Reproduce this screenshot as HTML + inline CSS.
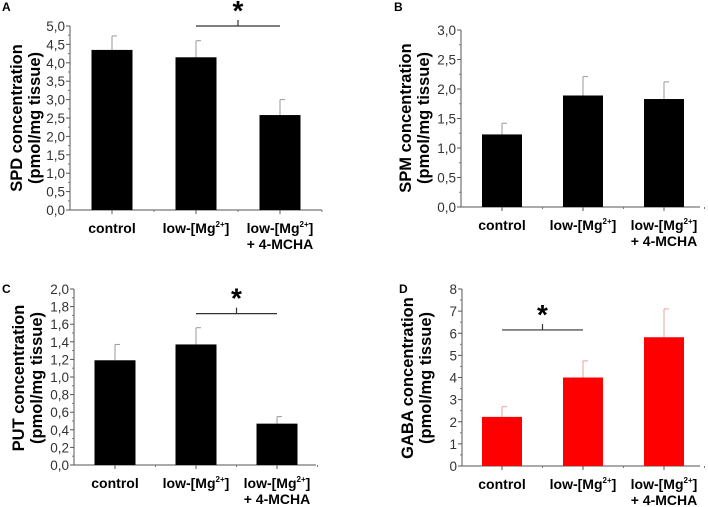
<!DOCTYPE html>
<html><head><meta charset="utf-8"><style>
html,body{margin:0;padding:0;background:#fff;}
svg{display:block;font-family:"Liberation Sans",Arial,sans-serif;}
</style></head><body>
<svg id="fig" width="708" height="507" viewBox="0 0 708 507"></svg>
<script>
const categories = ["control","low-[Mg2+]","low-[Mg2+] + 4-MCHA"];
const spdValues = [4.35, 4.15, 2.58];
const spdErr = [0.38, 0.45, 0.42];
const spmValues = [1.23, 1.89, 1.83];
const spmErr = [0.19, 0.32, 0.29];
const putValues = [1.19, 1.37, 0.47];
const putErr = [0.18, 0.19, 0.08];
const gabaValues = [2.22, 4.0, 5.82];
const gabaErr = [0.46, 0.75, 1.28];
const spdTicks = ["0,0","0,5","1,0","1,5","2,0","2,5","3,0","3,5","4,0","4,5","5,0"];
const spmTicks = ["0,0","0,5","1,0","1,5","2,0","2,5","3,0"];
const putTicks = ["0,0","0,2","0,4","0,6","0,8","1,0","1,2","1,4","1,6","1,8","2,0"];
const gabaTicks = ["0","1","2","3","4","5","6","7","8"];

const NS="http://www.w3.org/2000/svg";
const svg=document.getElementById('fig');
function mk(tag,attrs,parent){const e=document.createElementNS(NS,tag);for(const k in attrs)e.setAttribute(k,attrs[k]);(parent||svg).appendChild(e);return e;}

function panel(o){
  const g=mk('g',{});
  
  
  const ymax=o.ymax;
  const y=v=>o.y0+(o.yTop-o.y0)*v/ymax;
  const x=i=>o.c0+i*o.step;
  const L=mk('text',{x:o.lx,y:o.ly,'font-size':12,'font-weight':'bold'},g);L.textContent=o.letter;
  
  
  const ax=mk('line',{x1:o.ax,y1:o.y0,x2:o.ax,y2:o.yTop,stroke:'#555','stroke-width':1},g);
  
  
  const bx=mk('line',{x1:o.ax,y1:o.y0,x2:o.xEnd,y2:o.y0,stroke:'#555','stroke-width':1},g);
  
  
  o.ticks.forEach((t,i)=>{
    const v=i*ymax/(o.ticks.length-1);
    const yy=y(v);
    mk('line',{x1:o.ax-4,y1:yy,x2:o.ax,y2:yy,stroke:'#555'},g);
    if(i<o.ticks.length-1){const ym=y(v+ymax/(o.ticks.length-1)/2);mk('line',{x1:o.ax-2,y1:ym,x2:o.ax,y2:ym,stroke:'#777'},g);}
    const tx=mk('text',{x:o.ax-5,y:yy+5,'font-size':13.5,'text-anchor':'end',fill:'#333'},g);tx.textContent=t;
    
    
  });
  const tt=mk('text',{transform:`translate(${o.tx},${o.tcy}) rotate(-90)`,'font-size':16.5,'font-weight':'bold','text-anchor':'middle'},g);
  
  
  const s1=mk('tspan',{x:0,y:0},tt);s1.textContent=o.title;
  const s2=mk('tspan',{x:0,y:18},tt);s2.textContent="(pmol/mg tissue)";
  o.values.forEach((v,i)=>{
    const cx=x(i);
    mk('line',{x1:cx,y1:o.y0,x2:cx,y2:o.y0+4,stroke:'#555'},g);
    mk('line',{x1:cx+o.step/2,y1:o.y0,x2:cx+o.step/2,y2:o.y0+2,stroke:'#777'},g);
    const top=y(v+o.err[i]);
    mk('line',{x1:cx,y1:y(v),x2:cx,y2:top,stroke:o.ecol,'stroke-width':1},g);
    mk('line',{x1:cx,y1:top,x2:cx+5,y2:top,stroke:o.ecol,'stroke-width':1},g);
    const b=mk('rect',{x:cx-o.bw/2,y:y(v),width:o.bw,height:o.y0-y(v),fill:o.color},g);
    
    
    const lb=mk('text',{x:cx,y:o.y0+23,'font-size':14,'font-weight':'bold','text-anchor':'middle'},g);
    
    
    if(i===0){lb.textContent=categories[0];}
    else{
      const a=mk('tspan',{},lb);a.textContent="low-[Mg";
      const sp=mk('tspan',{'font-size':8,dy:-6},lb);sp.textContent="2+";
      const c=mk('tspan',{dy:6},lb);c.textContent="]";
      if(i===2){const d=mk('tspan',{x:cx,dy:16},lb);d.textContent="+ 4-MCHA";}
    }
  });
  if(o.sig){
    const [i1,i2,lv]=o.sig;const yy=y(lv);
    const sl=mk('line',{x1:x(i1),y1:yy,x2:x(i2),y2:yy,stroke:'#333','stroke-width':1.2},g);
    
    
    const mx=(x(i1)+x(i2))/2;
    mk('line',{x1:mx,y1:yy,x2:mx,y2:yy-6,stroke:'#333','stroke-width':1.2},g);
    const st=mk('text',{x:mx,y:yy-6,'font-size':28,'font-weight':'bold','text-anchor':'middle'},g);st.textContent="*";
    
    
  }
}
panel({name:'panel-a-spd',letter:'A',lx:2,ly:11,ax:70,y0:210,yTop:26,ymax:5,xEnd:322,c0:112,step:84,bw:41,ticks:spdTicks,values:spdValues,err:spdErr,color:'#000',ecol:'#999',title:'SPD concentration',tx:22,tcy:118,sig:[1,2,5.0]});
panel({name:'panel-b-spm',letter:'B',lx:394,ly:11,ax:461,y0:207,yTop:30,ymax:3,xEnd:700,c0:502,step:81,bw:40,ticks:spmTicks,values:spmValues,err:spmErr,color:'#000',ecol:'#999',title:'SPM concentration',tx:411,tcy:118});
panel({name:'panel-c-put',letter:'C',lx:2,ly:293,ax:74,y0:465,yTop:289,ymax:2,xEnd:316,c0:115,step:81,bw:41,ticks:putTicks,values:putValues,err:putErr,color:'#000',ecol:'#999',title:'PUT concentration',tx:24,tcy:378,sig:[1,2,1.72]});
panel({name:'panel-d-gaba',letter:'D',lx:399,ly:293,ax:462,y0:466,yTop:289,ymax:8,xEnd:700,c0:502,step:81,bw:40,ticks:gabaTicks,values:gabaValues,err:gabaErr,color:'#ff0000',ecol:'#e8a0a0',title:'GABA concentration',tx:413,tcy:378,sig:[0,1,6.15]});
</script>
</body></html>
